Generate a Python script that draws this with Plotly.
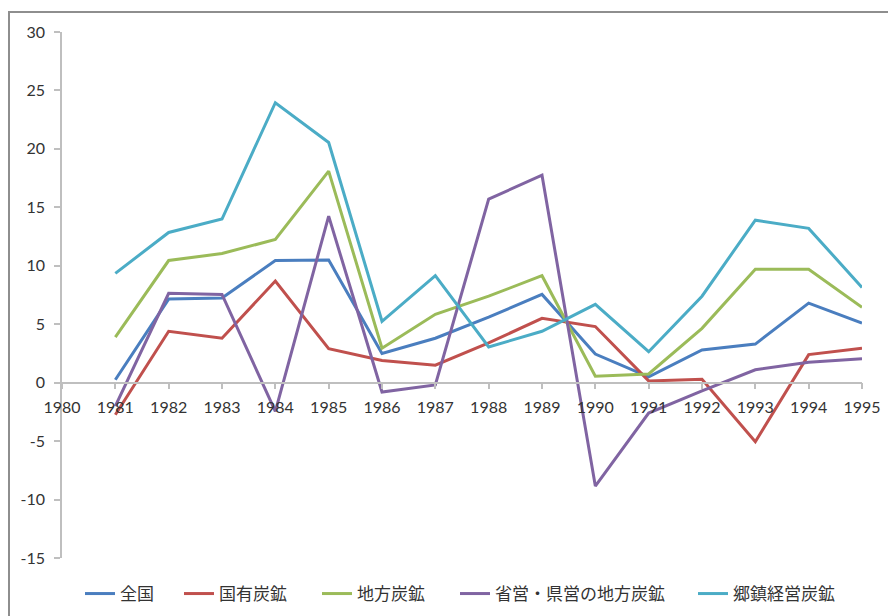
import plotly.graph_objects as go

years = [1981, 1982, 1983, 1984, 1985, 1986, 1987, 1988, 1989, 1990, 1991, 1992, 1993, 1994, 1995]
series_names = ["全国", "国有炭鉱", "地方炭鉱", "省営・県営の地方炭鉱", "郷鎮経営炭鉱"]
zenkoku = [0.25, 7.15, 7.25, 10.45, 10.5, 2.5, 3.8, 5.6, 7.55, 2.45, 0.5, 2.8, 3.3, 6.8, 5.1]
kokuyu = [-2.75, 4.4, 3.8, 8.7, 2.9, 1.9, 1.5, 3.4, 5.5, 4.8, 0.15, 0.3, -5.05, 2.4, 2.95]
chiho = [3.9, 10.45, 11.05, 12.25, 18.1, 2.95, 5.85, 7.4, 9.15, 0.55, 0.75, 4.65, 9.7, 9.7, 6.45]
shoei = [-2.0, 7.65, 7.55, -2.45, 14.25, -0.8, -0.2, 15.7, 17.75, -8.85, -2.6, -0.7, 1.1, 1.75, 2.05]
gochin = [9.35, 12.85, 14.0, 23.95, 20.55, 5.25, 9.15, 3.05, 4.4, 6.7, 2.65, 7.4, 13.9, 13.2, 8.15]
y_ticks = [-15, -10, -5, 0, 5, 10, 15, 20, 25, 30]
y_tick_text = ["-15", "-10", "-5", "0", "5", "10", "15", "20", "25", "30"]
x_ticks = list(range(1980, 1996))

colors = ["#4A7EBF", "#C0504D", "#9BBB59", "#8064A2", "#4BACC6"]
all_series = [zenkoku, kokuyu, chiho, shoei, gochin]
legend_ids = ["legend", "legend2", "legend3", "legend4", "legend5"]
legend_text_px = [120, 219, 357, 495, 733]  # left edge of each legend label (px)

L, R, T, B = 62, 26, 32, 58
PW, PH = 888 - L - R, 616 - T - B

fig = go.Figure()
for name, vals, col, lid in zip(series_names, all_series, colors, legend_ids):
    fig.add_trace(go.Scatter(x=years, y=vals, mode="lines", name=name, legend=lid,
                             line=dict(color=col, width=3), cliponaxis=False))

axis_col = "#BFBFBF"
tick_font = dict(family="Lato, 'Liberation Sans', sans-serif", size=16, color="#333333")
leg_font = dict(family="'Noto Sans CJK JP', sans-serif", size=17, color="#333333")

legends = {}
for lid, px in zip(legend_ids, legend_text_px):
    legends[lid] = dict(orientation="h", x=(px - 40 - L) / PW, xanchor="left",
                        y=-(594 - (T + PH)) / PH, yanchor="middle",
                        font=leg_font, itemwidth=30, bgcolor="rgba(0,0,0,0)",
                        borderwidth=0)

fig.update_layout(
    width=888, height=616,
    margin=dict(l=L, r=R, t=T, b=B, autoexpand=False),
    paper_bgcolor="white", plot_bgcolor="white",
    showlegend=True,
    xaxis=dict(range=[1980, 1995], tickmode="array", tickvals=x_ticks,
               ticktext=[str(t) for t in x_ticks],
               anchor="free", position=1/3,
               showline=True, linecolor=axis_col, linewidth=1.5,
               ticks="outside", ticklen=6, tickcolor=axis_col, tickwidth=1.5,
               ticklabelstandoff=4,
               showgrid=False, zeroline=False, tickfont=tick_font),
    yaxis=dict(range=[-15, 30], tickmode="array", tickvals=y_ticks, ticktext=y_tick_text,
               showline=True, linecolor=axis_col, linewidth=1.5,
               ticks="outside", ticklen=6, tickcolor=axis_col, tickwidth=1.5,
               ticklabelstandoff=6,
               showgrid=False, zeroline=False, tickfont=tick_font),
    shapes=[dict(type="rect", xref="paper", yref="paper",
                 x0=(9 - L) / PW, x1=1.2, y0=-0.2, y1=(T + PH - 12) / PH,
                 line=dict(color="#8E8E8E", width=2), layer="below")],
    **legends,
)

fig.write_html("out.html")
